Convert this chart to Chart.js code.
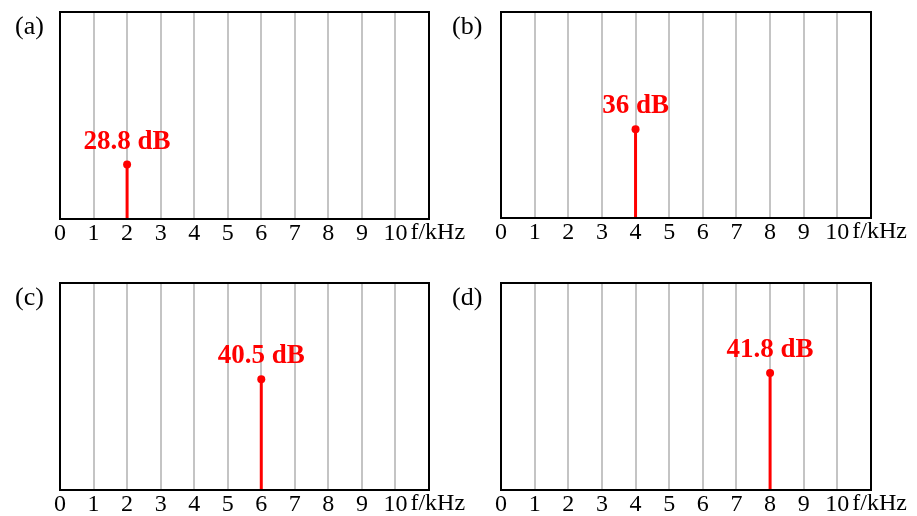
<!DOCTYPE html>
<html>
<head>
<meta charset="utf-8">
<script src="https://cdn.jsdelivr.net/npm/chart.js@4"></script>
<style>
  html, body { margin: 0; padding: 0; background: #fff; }
  body { width: 917px; height: 516px; position: relative; overflow: hidden; }
  .panel { position: absolute; }
</style>
</head>
<body>
<div class="panel" style="left:0;top:0;width:480px;height:245px;"><canvas id="chart-a"></canvas></div>
<div class="panel" style="left:440px;top:0;width:477px;height:244px;"><canvas id="chart-b"></canvas></div>
<div class="panel" style="left:0;top:271px;width:480px;height:245px;"><canvas id="chart-c"></canvas></div>
<div class="panel" style="left:440px;top:271px;width:477px;height:245px;"><canvas id="chart-d"></canvas></div>
<script>
// 各子圖的資料
const panelNames = ['(a)', '(b)', '(c)', '(d)'];
const peakFreqs = [2, 4, 6, 8];          // kHz
const peakLevels = [28.8, 36, 40.5, 41.8]; // dB
const freqTicks = [0, 1, 2, 3, 4, 5, 6, 7, 8, 9, 10];
const axisUnit = 'f/kHz';

const Y_MIN = 17.5, Y_MAX = 60.5;
const SERIF = '"Liberation Serif", "Times New Roman", serif';

// 外框、子圖標籤、單位、數值標籤
const decorPlugin = {
  id: 'decor',
  afterDraw(chart, args, opts) {
    const { ctx, chartArea: a, scales } = chart;
    ctx.save();
    ctx.strokeStyle = '#000';
    ctx.lineWidth = 2;
    ctx.strokeRect(a.left, a.top, a.right - a.left, a.bottom - a.top);

    ctx.fillStyle = '#000';
    ctx.font = `26px ${SERIF}`;
    ctx.textBaseline = 'alphabetic';
    ctx.textAlign = 'left';
    ctx.fillText(opts.name, opts.nameX, 34);

    ctx.font = `24px ${SERIF}`;
    ctx.textBaseline = 'top';
    ctx.fillText(axisUnit, scales.x.getPixelForValue(10) + 15, a.bottom + 2);

    const px = scales.x.getPixelForValue(opts.freq);
    const py = scales.y.getPixelForValue(opts.level);
    ctx.fillStyle = '#ff0000';
    ctx.font = `bold 27px ${SERIF}`;
    ctx.textAlign = 'center';
    ctx.textBaseline = 'alphabetic';
    ctx.fillText(`${opts.level} dB`, px, py - 16);
    ctx.restore();
  },
};

function makePanel(id, i, padLeft, padRight, nameX) {
  new Chart(document.getElementById(id), {
    type: 'line',
    data: {
      datasets: [{
        data: [{ x: peakFreqs[i], y: Y_MIN }, { x: peakFreqs[i], y: peakLevels[i] }],
        borderColor: '#ff0000',
        backgroundColor: '#ff0000',
        borderWidth: 3,
        pointRadius: [0, 4],
        pointBorderWidth: 0,
      }],
    },
    options: {
      responsive: true,
      maintainAspectRatio: false,
      animation: false,
      layout: { padding: { left: padLeft, right: padRight, top: 12, bottom: 0 } },
      plugins: {
        legend: { display: false },
        tooltip: { enabled: false },
        decor: { name: panelNames[i], nameX, freq: peakFreqs[i], level: peakLevels[i] },
      },
      scales: {
        x: {
          type: 'linear',
          min: 0,
          max: 11,
          afterBuildTicks: s => { s.ticks = freqTicks.map(v => ({ value: v })); },
          afterFit: s => { s.height = 26; },
          grid: { color: '#c4c4c4', lineWidth: 2, drawTicks: false },
          border: { display: false },
          ticks: {
            color: '#000',
            font: { family: SERIF, size: 24 },
            padding: 0,
            maxRotation: 0,
            autoSkip: false,
          },
        },
        y: { display: false, min: Y_MIN, max: Y_MAX },
      },
    },
    plugins: [decorPlugin],
  });
}

makePanel('chart-a', 0, 60, 51, 15);
makePanel('chart-b', 1, 61, 46, 12);
makePanel('chart-c', 2, 60, 51, 15);
makePanel('chart-d', 3, 61, 46, 12);
</script>
</body>
</html>
